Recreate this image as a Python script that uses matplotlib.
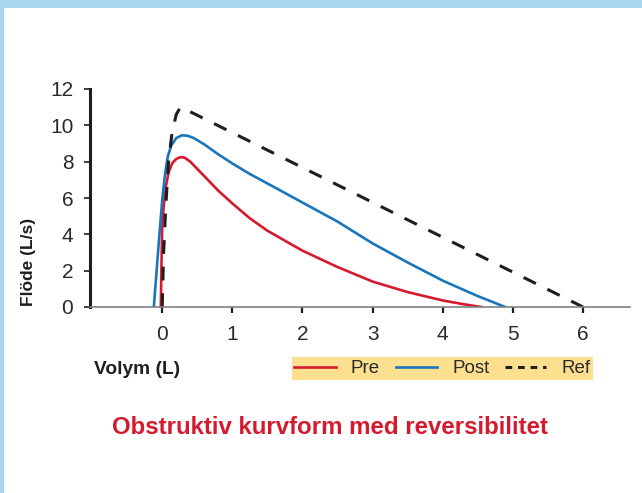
import matplotlib
matplotlib.use("Agg")
import matplotlib.pyplot as plt
from matplotlib.patches import Rectangle

plt.rcParams["font.family"] = ["Liberation Sans", "DejaVu Sans"]

# ─────────────────────────────────────────────────────────────
# Data
# ─────────────────────────────────────────────────────────────
pre_vol  = [-0.02, -0.01, 0.0, 0.02, 0.05, 0.09, 0.14, 0.2, 0.26, 0.32, 0.4,
            0.5, 0.65, 0.8, 1.0, 1.25, 1.5, 2.0, 2.5, 3.0, 3.5, 4.0, 4.3, 4.55]
pre_flow = [0, 2.5, 4.5, 5.5, 6.6, 7.4, 7.9, 8.15, 8.25, 8.22, 8.0,
            7.6, 7.0, 6.4, 5.7, 4.88, 4.2, 3.1, 2.2, 1.4, 0.82, 0.36, 0.15, 0]

post_vol  = [-0.12, -0.08, -0.04, 0.0, 0.04, 0.08, 0.13, 0.2, 0.28, 0.36, 0.45,
             0.6, 0.8, 1.0, 1.25, 1.5, 2.0, 2.5, 3.0, 3.5, 4.0, 4.5, 4.89]
post_flow = [0, 2.0, 4.0, 5.9, 7.3, 8.3, 8.9, 9.3, 9.45, 9.43, 9.3,
             8.95, 8.4, 7.9, 7.32, 6.8, 5.75, 4.7, 3.5, 2.45, 1.45, 0.6, 0]

ref_vol  = [0.0, 0.02, 0.05, 0.09, 0.14, 0.2, 0.26, 0.32, 6.0]
ref_flow = [0, 3.0, 5.5, 8.0, 9.6, 10.6, 11.0, 10.9, 0]

x_ticks = [0, 1, 2, 3, 4, 5, 6]
y_ticks = [0, 2, 4, 6, 8, 10, 12]

RED = "#d51a2e"
BLUE = "#1a75bb"
BORDER = "#a8d5ef"

# ─────────────────────────────────────────────────────────────
# Figure
# ─────────────────────────────────────────────────────────────
fig = plt.figure(figsize=(6.42, 4.93), dpi=100)
fig.patch.set_facecolor("white")

# light blue frame: band on top and on the left
fig.patches.append(Rectangle((0, 1 - 8 / 493), 1, 8 / 493, transform=fig.transFigure,
                             facecolor=BORDER, edgecolor="none"))
fig.patches.append(Rectangle((0, 0), 4 / 642, 1, transform=fig.transFigure,
                             facecolor=BORDER, edgecolor="none"))

ax = fig.add_axes([90 / 642, 1 - 307 / 493, 540 / 642, 218 / 493])

l_pre, = ax.plot(pre_vol, pre_flow, color=RED, lw=1.9, label="Pre")
l_post, = ax.plot(post_vol, post_flow, color=BLUE, lw=1.9, label="Post")
l_ref, = ax.plot(ref_vol, ref_flow, color="#1e1e1e", lw=2.2, dashes=(4.5, 4.2),
                 label="Ref")

ax.set_xlim(-1.03, 6.67)
ax.set_ylim(0, 12)
ax.set_xticks(x_ticks)
ax.set_yticks(y_ticks)

for s in ["right", "top"]:
    ax.spines[s].set_visible(False)
ax.spines["left"].set_color("#1e1e1e")
ax.spines["left"].set_linewidth(2.2)
ax.spines["bottom"].set_color("#808080")
ax.spines["bottom"].set_linewidth(1.2)

ax.tick_params(axis="y", direction="out", length=4, width=1.2, color="#1e1e1e",
               labelsize=15, labelcolor="#2a2a2a", pad=8)
ax.tick_params(axis="x", direction="out", length=4, width=1.6, color="#1e1e1e",
               labelsize=15, labelcolor="#2a2a2a", pad=9)

# axis titles
fig.text(29 / 642, 1 - 262 / 493, "Flöde (L/s)", rotation=90, fontsize=12.5,
         fontweight="bold", color="#1e1e1e", ha="center", va="center")
fig.text(94 / 642, 1 - 369 / 493, "Volym (L)", fontsize=13.8,
         fontweight="bold", color="#1e1e1e", ha="left", va="center")

# legend in yellow box
leg = fig.legend(handles=[l_pre, l_post, l_ref], ncol=3, loc="center",
                 bbox_to_anchor=(442.5 / 642, 1 - 368.5 / 493),
                 fontsize=13.5, frameon=True, fancybox=False, facecolor="#fde08f",
                 edgecolor="none", framealpha=1, handlelength=2.2,
                 handletextpad=0.8, columnspacing=0.85, borderpad=0.15)
leg.legend_handles[2].set_dashes((2.2, 1.9))
for t in leg.get_texts():
    t.set_color("#2a2a2a")

fig.text(330.5 / 642, 1 - 427.5 / 493, "Obstruktiv kurvform med reversibilitet",
         fontsize=17.3, fontweight="bold", color=RED, ha="center", va="center")

plt.savefig("out.png", dpi=100)
plt.close()
